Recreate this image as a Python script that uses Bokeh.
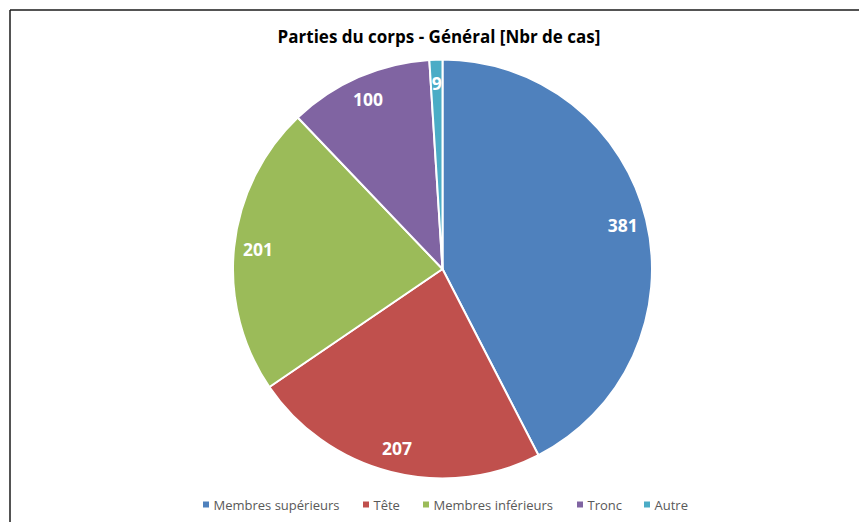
import math
from bokeh.plotting import figure
from bokeh.models import Range1d, ColumnDataSource
from bokeh.core.properties import value
from bokeh.embed import file_html
from bokeh.resources import INLINE

title_text = "Parties du corps - Général [Nbr de cas]"
categories = ["Membres supérieurs", "Tête", "Membres inférieurs", "Tronc", "Autre"]
counts = [381, 207, 201, 100, 9]
colors = ["#4F81BD", "#C0504D", "#9BBB59", "#8064A2", "#4BACC6"]

W, H = 859, 522
p = figure(width=W, height=H, output_backend="svg", toolbar_location=None,
           x_range=Range1d(0, W), y_range=Range1d(0, H), min_border=0)
p.axis.visible = False
p.grid.visible = False
p.outline_line_color = None
p.background_fill_color = "white"
p.border_fill_color = "white"

cx, cy, R = 442, 253.5, 209.5
total = sum(counts)
starts, ends, lx, ly = [], [], [], []
cum = 0
for c in counts:
    a0 = math.pi / 2 - 2 * math.pi * cum / total
    cum += c
    a1 = math.pi / 2 - 2 * math.pi * cum / total
    starts.append(a1)
    ends.append(a0)
    mid = (a0 + a1) / 2
    lx.append(cx + 0.885 * R * math.cos(mid))
    ly.append(cy + 0.885 * R * math.sin(mid))

src = ColumnDataSource(dict(x=[cx] * len(counts), y=[cy] * len(counts),
                            start=starts, end=ends, color=colors,
                            lx=lx, ly=ly, lab=[str(c) for c in counts], cat=categories))
p.wedge(x="x", y="y", radius=R, start_angle="start", end_angle="end",
        direction="anticlock", fill_color="color", line_color="white",
        line_width=2, source=src)
p.text(x="lx", y="ly", text="lab", source=src, text_color="white",
       text_font=value("Open Sans"), text_font_style="bold", text_font_size="17.5px",
       text_align="center", text_baseline="middle")

# title
p.text(x=[438.5], y=[486], text=[title_text], text_font=value("Open Sans"),
       text_font_style="bold", text_font_size="17px", text_color="#000000",
       text_align="center", text_baseline="middle")

# legend (layout positions)
leg_text_x = [213, 373, 433, 587, 654]
leg_y = 18
p.scatter(x=[v - 7.5 for v in leg_text_x], y=[leg_y] * 5, marker="square", size=6,
          fill_color=colors, line_color=None)
p.text(x=leg_text_x, y=[leg_y] * 5, text=categories,
       text_font=value("Open Sans"), text_font_size="13px", text_color="#595959",
       text_align="left", text_baseline="middle")

# chart border (top and left visible)
p.segment(x0=[9.5, 9.5], y0=[0, 512.5], x1=[9.5, W], y1=[512.5, 512.5],
          line_color="#1a1a1a", line_width=1.5)

open("out.html", "w").write(file_html(p, INLINE))
